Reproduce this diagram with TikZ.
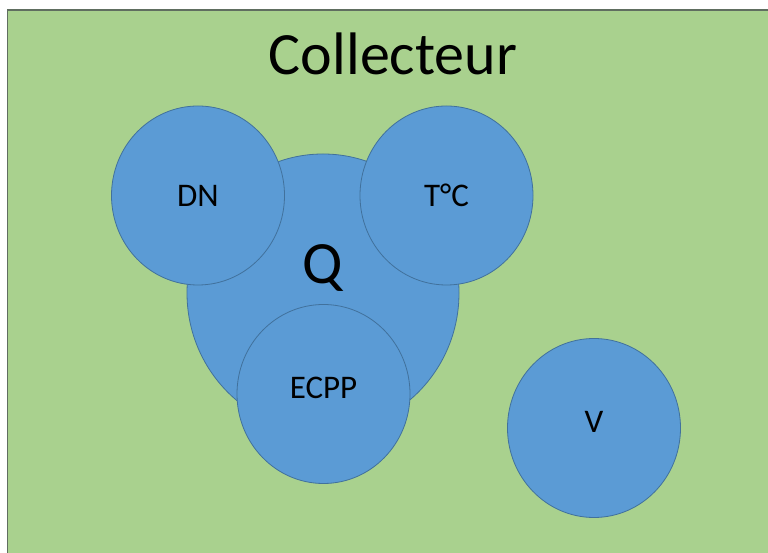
\documentclass[tikz,border=0pt]{standalone}
\usepackage{fontspec}
\setmainfont{Carlito}
\usepackage{tikz}
\usetikzlibrary{positioning,shapes.geometric}
\definecolor{framegreen}{RGB}{169,209,142}
\definecolor{framegray}{RGB}{96,110,96}
\definecolor{bubbleblue}{RGB}{91,155,213}
\definecolor{bubbleedge}{RGB}{65,113,156}

\begin{document}
\begin{tikzpicture}[x=1pt, y=1pt]
    \tikzstyle{bubble} = [ellipse, inner sep=0pt, draw=bubbleedge, fill=bubbleblue, line width=0.8pt, text=black, font=\fontsize{33}{40}\selectfont]
    \tikzstyle{small} = [bubble, minimum width=173pt, minimum height=179pt]
    \useasboundingbox (0,0) rectangle (768,553);
    \fill [white] (0,0) rectangle (768,553);

    % Collector frame
    \draw [framegray, fill=framegreen, line width=1.2pt] (7.5,543) rectangle (772,-4);
    \node [anchor=base, font=\fontsize{60}{72}\selectfont] (title) at (393,478.5) {Collecteur};

    % Flow and its parameters
    \node [bubble, minimum width=272pt, minimum height=278pt, font=\fontsize{60}{72}\selectfont, text depth=57pt] (Q) at (323,260) {Q};
    \node [small] (DN) at (198,357.5) {DN};
    \node [small] (TC) at (446.5,357.5) {T°C};
    \node [small, text depth=13pt] (ECPP) at (323.5,159) {ECPP};

    % Speed
    \node [small, text depth=13pt] (V) at (594,125) {V};
\end{tikzpicture}
\end{document}
